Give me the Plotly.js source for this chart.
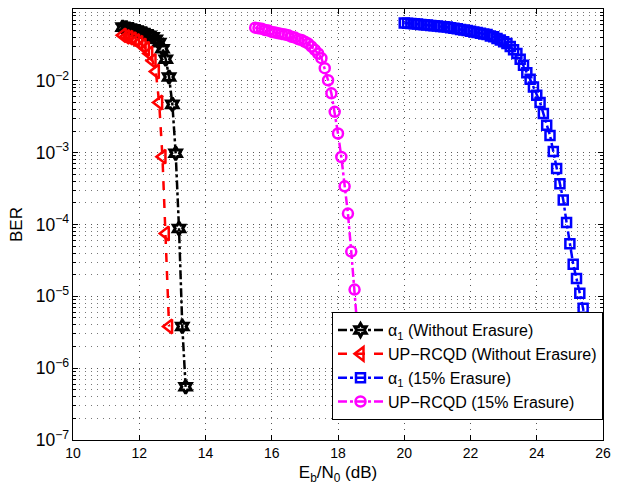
<!DOCTYPE html>
<html>
<head>
<meta charset="utf-8">
<script src="https://cdn.plot.ly/plotly-3.0.1.min.js"></script>
<style>html,body{margin:0;padding:0;background:#fff;}#chart{width:624px;height:487px;}</style>
</head>
<body>
<div id="chart"></div>
<script>
// Black: alpha_1 (Without Erasure)
const blackX = [11.5,11.6,11.7,11.8,11.9,12.0,12.1,12.2,12.3,12.4,12.5,12.6,12.7,12.8,12.9,13.0,13.1,13.2,13.3,13.4];
const blackY = [0.056,0.055,0.053,0.052,0.050,0.049,0.047,0.045,0.043,0.041,0.038,0.034,0.028,0.020,0.0113,0.0047,9.8e-4,8.8e-5,3.8e-6,5.5e-7];

// Red: UP-RCQD (Without Erasure)
const redX = [11.5,11.6,11.7,11.8,11.9,12.0,12.1,12.2,12.3,12.4,12.5,12.6,12.7,12.8,12.9];
const redY = [0.043,0.041,0.040,0.038,0.036,0.034,0.031,0.028,0.024,0.019,0.0135,0.0050,8.8e-4,7.5e-5,3.8e-6];

// Blue: alpha_1 (15% Erasure)
const blueX = [20.0,20.1,20.2,20.3,20.4,20.5,20.6,20.7,20.8,20.9,21.0,21.1,21.2,21.3,21.4,21.5,21.6,21.7,21.8,21.9,
               22.0,22.1,22.2,22.3,22.4,22.5,22.6,22.7,22.8,22.9,23.0,23.1,23.2,23.3,23.4,23.5,23.6,23.7,23.8,23.9,
               24.0,24.1,24.2,24.3,24.4,24.5,24.6,24.7,24.8,24.9,25.0,25.1,25.2,25.3,25.4,25.5];
const blueY = [0.064,0.0635,0.063,0.0625,0.062,0.061,0.0605,0.060,0.059,0.0585,0.058,0.057,0.0565,0.056,0.055,0.054,0.053,0.052,0.051,0.050,
               0.049,0.048,0.047,0.046,0.045,0.044,0.042,0.041,0.039,0.037,0.035,0.033,0.030,0.027,0.024,0.020,0.0165,0.013,0.0105,0.0082,
               0.0063,0.0050,0.0035,0.0024,0.00174,0.00104,6.0e-4,3.7e-4,2.2e-4,1.07e-4,5.4e-5,2.8e-5,1.77e-5,1.1e-5,6.8e-6,3.0e-6];

// Magenta: UP-RCQD (15% Erasure)
const magX = [15.5,15.6,15.7,15.8,15.9,16.0,16.1,16.2,16.3,16.4,16.5,16.6,16.7,16.8,16.9,17.0,17.1,17.2,17.3,17.4,
              17.5,17.6,17.7,17.8,17.9,18.0,18.1,18.2,18.3,18.4,18.5,18.6];
const magY = [0.055,0.054,0.053,0.051,0.050,0.048,0.047,0.046,0.045,0.044,0.043,0.041,0.040,0.038,0.037,0.035,0.033,0.030,0.027,0.024,
              0.0207,0.0150,0.0102,0.0067,0.0037,0.00185,8.7e-4,3.4e-4,1.42e-4,4.2e-5,1.24e-5,3.0e-6];

const names = ['α<sub>1</sub> (Without Erasure)', 'UP−RCQD (Without Erasure)', 'α<sub>1</sub> (15% Erasure)', 'UP−RCQD (15% Erasure)'];
const xTickVals = [10,12,14,16,18,20,22,24,26];

const traces = [
  {x: blackX, y: blackY, name: names[0], mode: 'lines+markers',
   line: {color: '#000000', width: 2.5, dash: 'dashdot'},
   marker: {symbol: 'hexagram-open', size: 10, color: '#000000', line: {color: '#000000', width: 3}}},
  {x: redX, y: redY, name: names[1], mode: 'lines+markers',
   line: {color: '#ff0000', width: 2.5, dash: 'dash'},
   marker: {symbol: 'triangle-left-open', size: 12, color: '#ff0000', line: {color: '#ff0000', width: 2.5}}},
  {x: blueX, y: blueY, name: names[2], mode: 'lines+markers',
   line: {color: '#0000ff', width: 2.5, dash: 'dashdot'},
   marker: {symbol: 'square-open', size: 9, color: '#0000ff', line: {color: '#0000ff', width: 2.5}}},
  {x: magX, y: magY, name: names[3], mode: 'lines+markers',
   line: {color: '#ff00ff', width: 2.5, dash: 'dashdot'},
   marker: {symbol: 'circle-open', size: 10, color: '#ff00ff', line: {color: '#ff00ff', width: 2.5}}}
];

const gridDash = '1px,5px';
const layout = {
  width: 624, height: 487,
  margin: {l: 73, r: 21, t: 9, b: 47},
  paper_bgcolor: '#ffffff', plot_bgcolor: '#ffffff',
  font: {family: 'Liberation Sans, Arial, sans-serif', size: 14, color: '#000000'},
  showlegend: true,
  legend: {x: 1, xanchor: 'right', y: 0.046, yanchor: 'bottom', itemwidth: 45,
           bgcolor: '#ffffff', bordercolor: '#000000', borderwidth: 1,
           font: {size: 16, family: 'Liberation Sans, Arial, sans-serif'}, tracegroupgap: 0},
  xaxis: {
    range: [10, 26], tickvals: xTickVals, ticks: 'inside', ticklen: 5, tickcolor: '#000',
    showline: true, linecolor: '#000', linewidth: 1, mirror: 'ticks',
    showgrid: true, gridcolor: '#555', griddash: gridDash, gridwidth: 1, zeroline: false,
    title: {text: 'E<sub>b</sub>/N<sub>0</sub> (dB)', font: {size: 17}, standoff: 6}
  },
  yaxis: {
    type: 'log', range: [-7, -1], dtick: 1, exponentformat: 'power', showexponent: 'all',
    ticks: 'inside', ticklen: 5, tickcolor: '#000',
    showline: true, linecolor: '#000', linewidth: 1, mirror: 'ticks',
    showgrid: true, gridcolor: '#555', griddash: gridDash, gridwidth: 1, zeroline: false,
    minor: {dtick: 'D1', ticks: 'inside', ticklen: 3, tickcolor: '#000', showgrid: true, gridcolor: '#777', griddash: gridDash, gridwidth: 1},
    title: {text: 'BER', font: {size: 17}, standoff: 8}
  }
};

Plotly.newPlot('chart', traces, layout, {staticPlot: true, displayModeBar: false});
</script>
</body>
</html>
